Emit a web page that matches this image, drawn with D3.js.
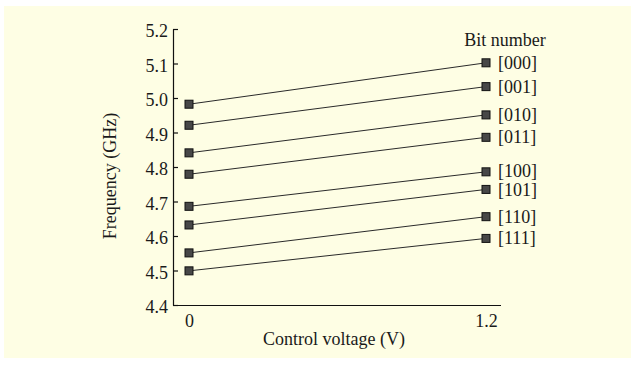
<!DOCTYPE html>
<html>
<head>
<meta charset="utf-8">
<script src="https://cdn.jsdelivr.net/npm/d3@7"></script>
<style>
  html, body { margin: 0; padding: 0; background: #fff; }
  svg text { font-family: "Liberation Serif", "Times New Roman", serif; fill: #1a1a1a; }
</style>
</head>
<body>
<svg id="chart" width="631" height="365"></svg>
<script>
// bit codes, one line each
const bits = ["[000]", "[001]", "[010]", "[011]", "[100]", "[101]", "[110]", "[111]"]
// control voltage end points (V)
const voltages = [0, 1.2]
// frequency at 0 V and at 1.2 V (GHz)
const freqAt0 = [4.982, 4.921, 4.841, 4.779, 4.686, 4.632, 4.551, 4.499]
const freqAt12 = [5.102, 5.033, 4.951, 4.886, 4.786, 4.735, 4.656, 4.593]
const yTicks = [4.4, 4.5, 4.6, 4.7, 4.8, 4.9, 5.0, 5.1, 5.2]
const xTicks = [0, 1.2]

const svg = d3.select("#chart")

// pale yellow panel
svg.append("rect")
    .attr("x", 4).attr("y", 6)
    .attr("width", 627).attr("height", 352)
    .attr("fill", "#fefee4")

const x = d3.scaleLinear().domain([0, 1.2]).range([189, 486])
const y = d3.scaleLinear().domain([4.4, 5.2]).range([305, 29])

const axisLeft = 173, axisRight = 501

// y axis, ticks pointing inwards
const yAxis = svg.append("g")
    .attr("transform", translate(axisLeft, 0))
    .call(d3.axisLeft(y).tickValues(yTicks).tickFormat(d3.format(".1f"))
        .tickSizeInner(-5).tickSizeOuter(0).tickPadding(5))
yAxis.select(".domain").attr("stroke", "#111").attr("stroke-width", 1.2)
yAxis.selectAll(".tick line").attr("stroke", "#111").attr("stroke-width", 1.2)
yAxis.selectAll("text")
    .style("font-family", "Liberation Serif, serif")
    .style("font-size", "18px")
    .attr("fill", "#1a1a1a")
    .attr("dy", "0.42em")

// x axis: plain line, labels only
svg.append("line")
    .attr("x1", axisLeft).attr("x2", axisRight)
    .attr("y1", y(4.4) + 0.5).attr("y2", y(4.4) + 0.5)
    .attr("stroke", "#111").attr("stroke-width", 1.2)
const xAxis = svg.append("g")
    .attr("transform", translate(0, y(4.4)))
    .call(d3.axisBottom(x).tickValues(xTicks).tickFormat(d => d === 0 ? "0" : d3.format(".1f")(d))
        .tickSize(0).tickPadding(9))
xAxis.select(".domain").remove()
xAxis.selectAll("text")
    .style("font-family", "Liberation Serif, serif")
    .style("font-size", "18px")
    .attr("fill", "#1a1a1a")

// axis titles
svg.append("text")
    .attr("x", 334).attr("y", 345)
    .attr("text-anchor", "middle")
    .style("font-size", "18px")
    .text("Control voltage (V)")
svg.append("text")
    .attr("transform", translate(116, 176) + " rotate(-90)")
    .attr("text-anchor", "middle")
    .style("font-size", "18px")
    .text("Frequency (GHz)")

const rows = bits.map((b, i) => ({ bit: b, pts: [[voltages[0], freqAt0[i]], [voltages[1], freqAt12[i]]] }))

const line = d3.line().x(d => x(d[0])).y(d => y(d[1]))

const g = svg.append("g")
g.selectAll(".trace")
    .data(rows)
    .enter()
    .append("path")
    .attr("class", "trace")
    .attr("d", d => line(d.pts))
    .attr("fill", "none")
    .attr("stroke", "#2a2a2a")
    .attr("stroke-width", 1)

const sq = 8
g.selectAll(".pt")
    .data(rows.flatMap(r => r.pts))
    .enter()
    .append("rect")
    .attr("class", "pt")
    .attr("x", d => x(d[0]) - sq / 2)
    .attr("y", d => y(d[1]) - sq / 2)
    .attr("width", sq).attr("height", sq)
    .attr("fill", "#474747")
    .attr("stroke", "#111")
    .attr("stroke-width", 1)

// bit labels to the right of the end points, nudged apart where they crowd
const labelY = rows.map(r => y(r.pts[1][1]) + 6)
const minGap = 19.5
for (let pass = 0; pass < 20; pass++) {
    for (let i = 1; i < labelY.length; i++) {
        const gap = labelY[i] - labelY[i - 1]
        if (gap < minGap) {
            const push = (minGap - gap) / 2
            labelY[i - 1] -= push
            labelY[i] += push
        }
    }
}
g.selectAll(".lbl")
    .data(rows)
    .enter()
    .append("text")
    .attr("class", "lbl")
    .attr("x", x(1.2) + 12)
    .attr("y", (d, i) => labelY[i])
    .style("font-size", "18px")
    .text(d => d.bit)

svg.append("text")
    .attr("x", 505).attr("y", 46)
    .attr("text-anchor", "middle")
    .style("font-size", "18px")
    .text("Bit number")

function translate(x, y) {
    return "translate(" + x + "," + y + ")";
}
</script>
</body>
</html>
